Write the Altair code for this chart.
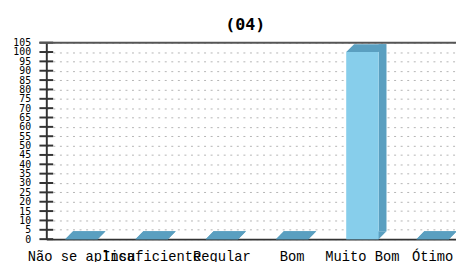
import altair as alt
import pandas as pd

categories = ["Não se aplica", "Insuficiente", "Regular", "Bom", "Muito Bom", "Ótimo"]
values = [0, 0, 0, 0, 100, 0]
tick_values = [0, 5, 10, 15, 20, 25, 30, 35, 40, 45, 50, 55, 60, 65, 70, 75, 80, 85, 90, 95, 100, 105]
title_text = "(04)"

FRONT = "#87CEEB"
DARK = "#5A9FC0"
FACE = "M-16.5,0 L16.5,0 L24.5,-8 L-8.5,-8 Z"

bars = pd.DataFrame({"cat": categories, "val": values})
ticks = pd.DataFrame({"val": tick_values})

x_enc = alt.X(
    "cat:N",
    sort=categories,
    scale=alt.Scale(domain=categories, range=[0, 429], paddingInner=0, paddingOuter=0),
    axis=alt.Axis(
        title=None, labelAngle=0, ticks=False, tickSize=0, labelPadding=11,
        labelFont="Liberation Mono", labelFontSize=14, labelColor="#000",
        labelOverlap=False, labelLimit=0, labelBound=False,
        domain=True, domainColor="#333", domainWidth=2, grid=False,
    ),
)
y_enc = alt.Y(
    "val:Q",
    scale=alt.Scale(domain=[0, 105], nice=False, zero=True),
    axis=alt.Axis(
        title=None, values=tick_values, ticks=False, tickSize=0, labelPadding=16,
        labelFont="DejaVu Sans Mono", labelFontSize=10, labelColor="#000",
        labelOverlap=False, labelBound=False, labelFlush=False,
        domain=True, domainColor="#333", domainWidth=2,
        grid=True, gridColor="#b4b4b4", gridDash=[2, 4.67], gridWidth=1,
    ),
)

base = alt.Chart(bars)

side = base.mark_bar(width=8, xOffset=20.5, yOffset=-8, y2Offset=-8, color=DARK).encode(
    x=x_enc, y=y_enc
)
bottom_face = base.transform_calculate(val="0").mark_point(
    shape=FACE, size=4, filled=True, opacity=1, strokeWidth=0, color=DARK
).encode(x=x_enc, y=y_enc)
top_face = base.mark_point(shape=FACE, size=4, filled=True, opacity=1, strokeWidth=0, color=DARK).encode(
    x=x_enc, y=y_enc
)
front = base.mark_bar(width=33, color=FRONT).encode(x=x_enc, y=y_enc)

tick_marks = alt.Chart(ticks).mark_rule(color="#333", strokeWidth=2).encode(
    y=y_enc, x=alt.value(-7), x2=alt.value(7)
)
top_line = alt.Chart(ticks).transform_filter("datum.val == 105").mark_rule(color="#555", strokeWidth=2).encode(
    y=y_enc, x=alt.value(-7), x2=alt.value(520)
)

chart = alt.layer(side, bottom_face, top_face, front, tick_marks, top_line).properties(
    width=417,
    height=200,
    autosize="none",
    padding={"left": 39, "top": 33, "right": 0, "bottom": 22},
    title=alt.TitleParams(
        title_text, font="DejaVu Sans Mono", fontSize=17, fontWeight="bold",
        color="#000", anchor="middle", dx=-6, dy=19, offset=10, baseline="alphabetic",
    ),
).configure_view(stroke=None)

chart.save("out.html", embed_options={"renderer": "svg", "actions": False})
